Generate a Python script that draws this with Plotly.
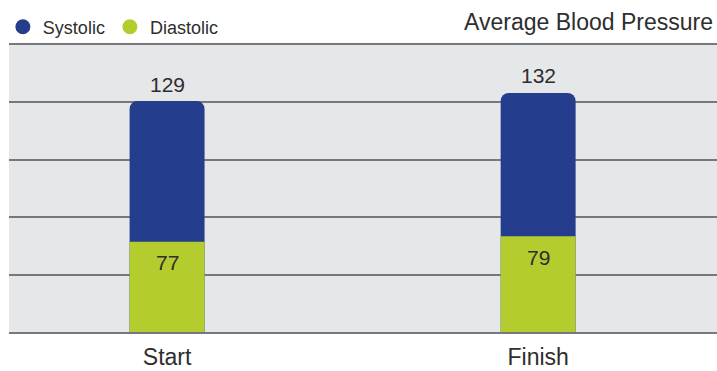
import plotly.graph_objects as go

# Average blood pressure readings (mmHg)
categories = ["Start", "Finish"]
systolic = [129, 132]
diastolic = [77, 79]
series_names = ["Systolic", "Diastolic"]
chart_title = "Average Blood Pressure"

NAVY = "#243d8c"
LIME = "#b5cc2e"
GRID = "#77787b"
PLOT_BG = "#e6e7e8"
TEXT = "#2e2e2e"
FONT = "Liberation Sans, Arial, sans-serif"

fig = go.Figure()

# Overlaid bars: systolic behind, diastolic in front
fig.add_trace(go.Bar(
    x=categories, y=systolic, name=series_names[0],
    marker=dict(color=NAVY, line=dict(width=0), cornerradius=8),
    width=0.202, showlegend=False, hoverinfo="x+y",
))
fig.add_trace(go.Bar(
    x=categories, y=diastolic, name=series_names[1],
    marker=dict(color=LIME, line=dict(width=0)),
    width=0.202, showlegend=False, hoverinfo="x+y",
))

# Round legend markers
for name, color in zip(series_names, [NAVY, LIME]):
    fig.add_trace(go.Scatter(
        x=[None], y=[None], mode="markers", name=name,
        marker=dict(symbol="circle", size=15, color=color),
    ))

# Value labels: systolic above the bar, diastolic inside near its top
annotations = []
for cat, s, d in zip(categories, systolic, diastolic):
    annotations.append(dict(
        x=cat, y=s, text=str(s), showarrow=False, yanchor="middle",
        yshift=17, font=dict(size=21, color=TEXT, family=FONT),
    ))
    annotations.append(dict(
        x=cat, y=d, text=str(d), showarrow=False, yanchor="middle",
        yshift=-21, font=dict(size=21, color=TEXT, family=FONT),
    ))

# Five horizontal bands; the top and bottom rules come from the mirrored
# x-axis line, the inner ones from the y gridlines.
y_lo, y_hi = 43.65, 149.7
fig.update_layout(
    width=717, height=371,
    margin=dict(l=9, r=0, t=45, b=39, autoexpand=False),
    barmode="overlay",
    paper_bgcolor="white",
    plot_bgcolor=PLOT_BG,
    font=dict(family=FONT, color=TEXT),
    title=dict(
        text=chart_title, x=713 / 717, xref="container", xanchor="right",
        y=1 - 22 / 371, yref="container", yanchor="middle",
        font=dict(size=23, color=TEXT, family=FONT),
    ),
    legend=dict(
        orientation="h", x=0.004, xref="container", xanchor="left",
        y=1 - 27 / 371, yref="container", yanchor="middle",
        font=dict(size=18, color=TEXT, family=FONT),
        bgcolor="rgba(0,0,0,0)", itemclick=False, itemdoubleclick=False,
        traceorder="normal",
    ),
    xaxis=dict(
        type="category", range=[-0.426, 1.482], automargin=False,
        showgrid=False, zeroline=False,
        showline=True, mirror=True, linecolor=GRID, linewidth=2,
        ticks="", ticklabelstandoff=3,
        tickfont=dict(size=23, color=TEXT, family=FONT),
        fixedrange=True,
    ),
    yaxis=dict(
        range=[y_lo, y_hi], tick0=y_lo, dtick=(y_hi - y_lo) / 5,
        automargin=False,
        showticklabels=False, ticks="",
        showgrid=True, gridcolor=GRID, gridwidth=2,
        zeroline=False, showline=False, fixedrange=True,
    ),
    annotations=annotations,
    showlegend=True,
)

fig.write_html("out.html")
